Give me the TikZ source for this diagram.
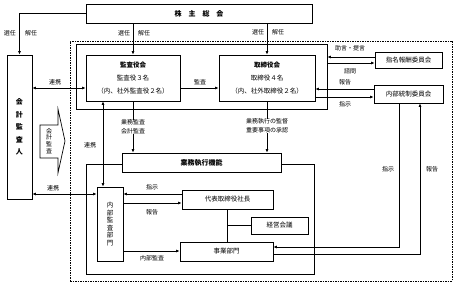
\documentclass[tikz,border=0pt]{standalone}
\usepackage{fontspec}
\setmainfont{Noto Sans CJK JP}
\usetikzlibrary{arrows.meta, positioning}

\begin{document}
\begin{tikzpicture}[x=1pt, y=-1pt, font=\fontsize{6.5}{8}\selectfont]
    \tikzstyle{box} = [rectangle, draw=black, fill=white, line width=0.8pt, inner sep=0pt, align=center]
    \tikzstyle{frame} = [rectangle, draw=black, line width=0.8pt, inner sep=0pt]
    \tikzstyle{lbl} = [inner sep=0pt, font=\fontsize{6}{9}\selectfont, align=center]
    \tikzstyle{arr} = [line width=0.7pt, -{Latex[length=3.5pt, width=3pt]}]
    \tikzstyle{dblarr} = [line width=0.7pt, {Latex[length=3.5pt, width=3pt]}-{Latex[length=3.5pt, width=3pt]}]

    \useasboundingbox (0,0) rectangle (456,286);

    % frames
    \node (group) [frame, dash pattern=on 1.5pt off 1pt, minimum width=382pt, minimum height=240pt] at (261,161) {};
    \node (board) [frame, minimum width=251pt, minimum height=65pt] at (201.5,76.5) {};
    \node (exec) [frame, minimum width=228pt, minimum height=110pt] at (200,219) {};

    % boxes
    \node (agm) [box, minimum width=226pt, minimum height=19pt, font=\bfseries\fontsize{7}{8}\selectfont] at (199,13.5) {株\hspace{7pt}主\hspace{7pt}総\hspace{7pt}会};
    \node (auditor) [box, minimum width=25pt, minimum height=144pt, font=\bfseries\fontsize{7}{12.5}\selectfont] at (19.5,127) {会\\計\\監\\査\\人};
    \node (kansa) [box, minimum width=94pt, minimum height=46pt, font=\fontsize{6.5}{13}\selectfont] at (133,78) {\textbf{監査役会}\\監査役３名\\（内、社外監査役２名）};
    \node (torishimari) [box, minimum width=96pt, minimum height=46pt, font=\fontsize{6.5}{13}\selectfont] at (267,78) {\textbf{取締役会}\\取締役４名\\（内、社外取締役２名）};
    \node (shimei) [box, minimum width=67pt, minimum height=16pt] at (408.5,60) {指名報酬委員会};
    \node (tousei) [box, minimum width=69pt, minimum height=18pt] at (408.5,94) {内部統制委員会};
    \node (gyoumu) [box, minimum width=159pt, minimum height=19pt, font=\bfseries\fontsize{7}{8}\selectfont] at (201.5,162.5) {業務執行機能};
    \node (naibu) [box, minimum width=26pt, minimum height=74pt, font=\fontsize{6.5}{7.5}\selectfont] at (110,224) {内\\部\\監\\査\\部\\門};
    \node (daihyou) [box, minimum width=91pt, minimum height=19pt] at (227.5,199.5) {代表取締役社長};
    \node (keiei) [box, minimum width=57pt, minimum height=17pt] at (279.5,225.5) {経営会議};
    \node (jigyou) [box, minimum width=93pt, minimum height=19pt] at (226.5,251.5) {事業部門};

    % hollow arrow
    \draw[line width=0.7pt] (40,125) -- (58,125) -- (58,109) -- (65,141) -- (58,173) -- (58,158) -- (40,158) -- cycle;
    \node (audittext) [lbl, font=\fontsize{6}{6.8}\selectfont] at (49,141) {会\\計\\監\\査};

    % shareholders
    \draw[arr] (agm.west) -| (auditor.north);
    \draw[arr] (kansa.north |- agm.south) -- (kansa.north);
    \draw[arr] (torishimari.north |- agm.south) -- (torishimari.north);
    \node (l1a) [lbl] at (10,33) {選任};
    \node (l1b) [lbl] at (31,33) {解任};
    \node (l2a) [lbl] at (124,33) {選任};
    \node (l2b) [lbl] at (144,33) {解任};
    \node (l3a) [lbl] at (258,32) {選任};
    \node (l3b) [lbl] at (278,32) {解任};

    % board level
    \draw[dblarr] (auditor.east |- 0,88) -- (kansa.west |- 0,88);
    \node (l4) [lbl] at (55,82) {連携};
    \draw[arr] (kansa.east |- 0,88) -- (torishimari.west |- 0,88);
    \node (l5) [lbl] at (200,82) {監査};
    \draw[arr] (shimei.west |- 0,57) -- (board.east |- 0,57);
    \node (l6) [lbl] at (350,48) {助言・提言};
    \draw[arr] (board.east |- 0,63) -- (shimei.west |- 0,63);
    \node (l7) [lbl] at (350,71) {諮問};
    \draw[arr] (tousei.west |- 0,89) -- (torishimari.east |- 0,89);
    \node (l8) [lbl] at (345,82) {報告};
    \draw[arr] (torishimari.east |- 0,97) -- (tousei.west |- 0,97);
    \node (l9) [lbl] at (345,104) {指示};

    % down to execution
    \draw[dblarr] (kansa.south -| 103,0) -- (naibu.north -| 103,0);
    \node (l10) [lbl] at (90,145) {連携};
    \draw[arr] (kansa.south) -- (kansa.south |- gyoumu.north);
    \node (l11) [lbl, fill=white] at (133,127) {業務監査\\会計監査};
    \draw[arr] (torishimari.south) -- (torishimari.south |- gyoumu.north);
    \node (l12) [lbl, fill=white] at (267,126) {業務執行の監督\\重要事項の承認};

    % execution
    \draw[dblarr] (auditor.east |- 0,194) -- (naibu.west |- 0,194);
    \node (l13) [lbl] at (53,188) {連携};
    \draw[arr] (daihyou.west |- 0,194) -- (naibu.east |- 0,194);
    \node (l14) [lbl] at (152,187) {指示};
    \draw[arr] (naibu.east |- 0,203) -- (daihyou.west |- 0,203);
    \node (l15) [lbl] at (152,212) {報告};
    \draw[arr] (naibu.east |- 0,251) -- (jigyou.west |- 0,251);
    \node (l16) [lbl] at (152,258) {内部監査};
    \draw[line width=0.7pt] (daihyou.south) -- (daihyou.south |- jigyou.north);
    \draw[line width=0.7pt] (daihyou.south |- keiei.west) -- (keiei.west);

    % internal control
    \draw[arr] (tousei.south -| 399,0) |- (jigyou.east |- 0,247);
    \node (l17) [lbl] at (388,169) {指示};
    \draw[arr] (jigyou.east |- 0,254) -| (tousei.south -| 420,0);
    \node (l18) [lbl] at (432,169) {報告};
\end{tikzpicture}
\end{document}
